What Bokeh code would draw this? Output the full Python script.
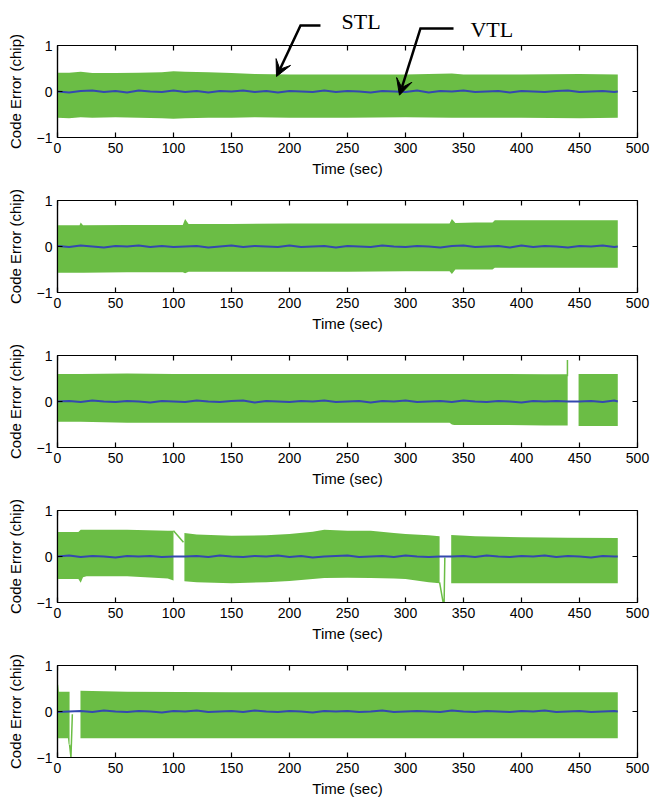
import math
from bokeh.plotting import figure
from bokeh.layouts import column
from bokeh.models import Range1d, FixedTicker, Arrow, VeeHead
from bokeh.core.properties import value
from bokeh.embed import file_html
from bokeh.resources import INLINE

NAN = float("nan")

# ---------------- data: STL envelope (upper / lower), NaN marks a gap ----------------
p1_t  = [0, 10, 20, 30, 50, 70, 90, 100, 110, 130, 150, 170, 200, 250, 300, 340, 350, 400, 450, 483]
p1_hi = [0.41, 0.41, 0.43, 0.40, 0.40, 0.41, 0.42, 0.44, 0.43, 0.42, 0.40, 0.38, 0.37, 0.37, 0.37, 0.39, 0.37, 0.37, 0.38, 0.37]
p1_lo = [-0.57, -0.58, -0.56, -0.57, -0.56, -0.57, -0.58, -0.59, -0.58, -0.57, -0.57, -0.56, -0.57, -0.57, -0.56, -0.57, -0.57, -0.57, -0.58, -0.57]

p2_t  = [0, 19, 20, 22, 60, 108, 110, 113, 150, 200, 250, 300, 338, 340, 343, 360, 375, 377, 420, 483]
p2_hi = [0.46, 0.46, 0.52, 0.46, 0.47, 0.47, 0.60, 0.49, 0.49, 0.50, 0.50, 0.50, 0.50, 0.60, 0.51, 0.52, 0.52, 0.57, 0.57, 0.57]
p2_lo = [-0.57, -0.57, -0.57, -0.57, -0.56, -0.56, -0.58, -0.55, -0.55, -0.55, -0.55, -0.54, -0.54, -0.60, -0.50, -0.50, -0.50, -0.46, -0.46, -0.46]

p3_t  = [0, 20, 60, 100, 200, 300, 338, 340, 342, 380, 420, 439.8, NAN, 449.2, 460, 483]
p3_hi = [0.60, 0.60, 0.61, 0.60, 0.60, 0.60, 0.60, 0.60, 0.60, 0.60, 0.59, 0.59, NAN, 0.60, 0.60, 0.60]
p3_lo = [-0.44, -0.44, -0.46, -0.46, -0.46, -0.46, -0.46, -0.50, -0.51, -0.51, -0.52, -0.52, NAN, -0.53, -0.53, -0.53]

p4_t  = [0, 18, 20, 22, 25, 60, 95, 100, NAN, 109.4, 120, 150, 180, 200, 220, 230, 250, 270, 290, 300, 320, 329.4,
         NAN, 339.4, 360, 400, 440, 483]
p4_hi = [0.53, 0.53, 0.58, 0.58, 0.58, 0.58, 0.56, 0.56, NAN, 0.51, 0.48, 0.45, 0.46, 0.49, 0.54, 0.58, 0.56, 0.56, 0.51, 0.49, 0.46, 0.44,
         NAN, 0.47, 0.44, 0.42, 0.41, 0.40]
p4_lo = [-0.49, -0.49, -0.57, -0.45, -0.43, -0.43, -0.48, -0.52, NAN, -0.54, -0.56, -0.58, -0.56, -0.53, -0.49, -0.47, -0.46, -0.47, -0.48, -0.49, -0.56, -0.58,
         NAN, -0.58, -0.58, -0.58, -0.58, -0.58]

p5_t  = [0, 0.6, 1.2, 9.0, 9.6, 10.4, NAN, 19.8, 60, 150, 250, 350, 483]
p5_hi = [0.58, 0.58, 0.43, 0.43, 0.43, 0.43, NAN, 0.45, 0.43, 0.42, 0.42, 0.42, 0.42]
p5_lo = [-0.55, -0.58, -0.58, -0.58, -0.72, -0.72, NAN, -0.58, -0.58, -0.58, -0.58, -0.58, -0.58]

# thin STL excursions (spikes / ramps)
p3_spike_t = [[439.6, 439.6]]
p3_spike_y = [[0.55, 0.90]]
p4_spike_t = [[100.0, 108.6], [329.4, 332.3, 333.3, 333.9]]
p4_spike_y = [[0.56, 0.31], [-0.56, -0.98, -1.00, -0.02]]
p5_spike_t = [[10.4, 11.6, 12.8]]
p5_spike_y = [[-0.72, -1.00, -0.06]]

# ---------------- data: VTL code error ----------------
vtl_t = list(range(0, 481, 10)) + [483]
vtl1 = [0.00, -0.02, 0.01, 0.02, -0.01, 0.01, -0.02, 0.02, 0.00, -0.01,
        0.02, -0.01, 0.01, -0.02, 0.01, 0.00, 0.02, -0.01, 0.01, -0.02,
        0.01, 0.00, -0.01, 0.02, -0.01, 0.01, 0.00, -0.02, 0.01, 0.00,
        -0.01, 0.02, -0.02, 0.01, 0.00, 0.02, -0.01, 0.00, 0.01, -0.02,
        0.01, 0.00, -0.01, 0.01, 0.02, -0.01, 0.00, 0.01, -0.01, 0.00]
vtl2 = [0.01, -0.01, 0.02, 0.00, -0.02, 0.01, 0.00, 0.02, -0.01, 0.01,
        -0.01, 0.00, 0.01, -0.02, 0.00, 0.02, -0.01, 0.01, 0.00, -0.01,
        0.02, -0.01, 0.00, 0.01, -0.02, 0.01, 0.00, -0.01, 0.02, 0.00,
        -0.01, 0.01, 0.00, -0.02, 0.01, 0.02, -0.01, 0.00, 0.01, -0.02,
        0.02, -0.01, 0.01, 0.00, -0.02, 0.01, 0.00, 0.02, -0.01, 0.00]
vtl3 = [0.00, 0.01, -0.01, 0.02, 0.00, -0.01, 0.01, 0.00, -0.02, 0.01,
        0.00, -0.01, 0.02, 0.00, -0.01, 0.01, 0.02, -0.02, 0.01, 0.00,
        -0.01, 0.01, 0.00, 0.02, -0.01, 0.00, 0.01, -0.02, 0.01, 0.00,
        0.02, -0.01, 0.00, 0.01, -0.01, 0.02, 0.00, -0.01, 0.01, 0.00,
        -0.02, 0.01, 0.00, 0.01, 0.00, 0.00, 0.01, -0.01, 0.02, 0.00]
vtl4 = [0.00, 0.02, -0.01, 0.01, 0.00, -0.02, 0.01, 0.00, 0.01, -0.01,
        0.00, 0.00, 0.01, -0.01, 0.02, 0.00, -0.01, 0.01, 0.00, 0.02,
        -0.01, 0.01, -0.02, 0.00, 0.01, 0.02, -0.01, 0.00, 0.01, -0.01,
        0.02, 0.00, -0.01, 0.00, 0.00, 0.01, -0.01, 0.02, 0.00, -0.01,
        0.01, 0.00, 0.02, -0.01, 0.01, 0.00, -0.02, 0.01, 0.00, 0.00]
vtl5 = [-0.01, 0.00, 0.01, -0.01, 0.02, 0.00, -0.01, 0.01, 0.00, -0.02,
        0.01, 0.00, 0.02, -0.01, 0.00, 0.01, -0.01, 0.02, 0.00, -0.01,
        0.01, 0.00, -0.02, 0.01, 0.00, 0.01, -0.01, 0.00, 0.02, -0.01,
        0.00, 0.01, 0.00, -0.01, 0.02, 0.00, -0.01, 0.01, 0.00, -0.01,
        0.01, 0.00, 0.02, -0.01, 0.00, 0.01, -0.01, 0.00, 0.01, 0.00]

x_ticks = [0, 50, 100, 150, 200, 250, 300, 350, 400, 450, 500]
y_ticks = [-1, 0, 1]

# callouts in the first panel (text, anchor, arrow path in data units)
callout_text = ["STL", "VTL"]
callout_text_x = [244.8, 356.0]
callout_text_y = [1.511, 1.348]
callout_path_x = [[226.7, 209.5, 188.8], [341.4, 312.9, 294.8]]
callout_path_y = [[1.435, 1.435, 0.326], [1.37, 1.37, -0.08]]

GREEN = "#6BBD45"
BLUE = "#3448B0"
FONT = "Liberation Sans"
X0, X1, Y0, Y1 = 0, 500, -1, 1
FRAME_H = 92
PX_PER_UNIT = FRAME_H / (Y1 - Y0)
TOP_BAND = 45
OVERLAP = 16

panels = [
    (p1_t, p1_hi, p1_lo, [], [], vtl1),
    (p2_t, p2_hi, p2_lo, [], [], vtl2),
    (p3_t, p3_hi, p3_lo, p3_spike_t, p3_spike_y, vtl3),
    (p4_t, p4_hi, p4_lo, p4_spike_t, p4_spike_y, vtl4),
    (p5_t, p5_hi, p5_lo, p5_spike_t, p5_spike_y, vtl5),
]


def split_segments(t, hi, lo):
    segs, cur = [], ([], [], [])
    for a, b, c in zip(t, hi, lo):
        if math.isnan(a):
            if cur[0]:
                segs.append(cur)
            cur = ([], [], [])
        else:
            cur[0].append(a); cur[1].append(b); cur[2].append(c)
    if cur[0]:
        segs.append(cur)
    return segs


def style_axis(ax):
    ax.major_tick_in = 5
    ax.major_tick_out = 0
    ax.minor_tick_line_color = None
    ax.axis_line_color = "black"
    ax.axis_line_width = 1.2
    ax.major_tick_line_color = "black"
    ax.major_tick_line_width = 1.2
    ax.major_label_text_font = FONT
    ax.major_label_text_font_size = "14px"
    ax.major_label_text_color = "black"
    ax.major_label_standoff = 5
    ax.axis_label_text_font = FONT
    ax.axis_label_text_font_size = "15px"
    ax.axis_label_text_font_style = "normal"
    ax.axis_label_text_color = "black"


# strip above the first panel, sharing its data scale, for the callouts
top_y_hi = Y1 + TOP_BAND / PX_PER_UNIT
p0 = figure(width=652, height=TOP_BAND, output_backend="svg", toolbar_location=None,
            x_range=Range1d(X0, X1), y_range=Range1d(Y1, top_y_hi),
            x_axis_type=None, y_axis_type=None,
            min_border_left=57, min_border_right=15, min_border_top=0, min_border_bottom=0)
p0.grid.visible = False
p0.outline_line_color = None
p0.background_fill_color = "white"
p0.border_fill_color = "white"
for xs, ys in zip(callout_path_x, callout_path_y):
    p0.line(xs, ys, line_color="black", line_width=2.5, line_join="miter")
p0.text(x=callout_text_x, y=callout_text_y, text=callout_text,
        text_font=value("Liberation Serif"), text_font_size="22px",
        text_baseline="middle", text_color="black")

figs = [p0]
n = len(panels)
for i, (t, hi, lo, st, sy, vtl) in enumerate(panels):
    top = OVERLAP if i == 0 else 17
    bottom = 42 if i == n - 1 else 46
    h = top + FRAME_H + bottom
    kw = dict(margin=(-OVERLAP, 0, 0, 0)) if i == 0 else {}
    p = figure(width=652, height=h, output_backend="svg", toolbar_location=None,
               x_range=Range1d(X0, X1), y_range=Range1d(Y0, Y1),
               min_border_left=57, min_border_right=15,
               min_border_top=top, min_border_bottom=bottom,
               x_axis_label="Time (sec)", y_axis_label="Code Error (chip)", **kw)
    p.grid.visible = False
    p.outline_line_color = "black"
    p.outline_line_width = 1.2
    p.background_fill_color = "white"
    p.border_fill_color = None if i == 0 else "white"

    for seg_t, seg_hi, seg_lo in split_segments(t, hi, lo):
        p.varea(x=seg_t, y1=seg_lo, y2=seg_hi, fill_color=GREEN, fill_alpha=1.0)
    for xs, ys in zip(st, sy):
        p.line(xs, ys, line_color=GREEN, line_width=1.5)
    p.line(vtl_t, vtl, line_color=BLUE, line_width=2)

    p.xaxis.ticker = FixedTicker(ticks=x_ticks)
    p.yaxis.ticker = FixedTicker(ticks=y_ticks)
    for ax in p.xaxis + p.yaxis:
        style_axis(ax)
    p.yaxis.axis_label_standoff = 10
    p.xaxis.axis_label_standoff = 4

    # inward ticks on the top and right edges (box style)
    p.ray(x=x_ticks, y=[Y1] * len(x_ticks), length=5, angle=-math.pi / 2,
          length_units="screen", line_color="black", line_width=1.2)
    p.ray(x=[X1] * len(y_ticks), y=y_ticks, length=5, angle=math.pi,
          length_units="screen", line_color="black", line_width=1.2)

    if i == 0:
        for xs, ys in zip(callout_path_x, callout_path_y):
            p.add_layout(Arrow(x_start=xs[-2], y_start=ys[-2], x_end=xs[-1], y_end=ys[-1],
                               end=VeeHead(size=16, fill_color="black", line_color="black"),
                               line_width=2.5, line_color="black"))
    figs.append(p)

layout = column(*figs, spacing=0)
open("out.html", "w").write(file_html(layout, INLINE))
